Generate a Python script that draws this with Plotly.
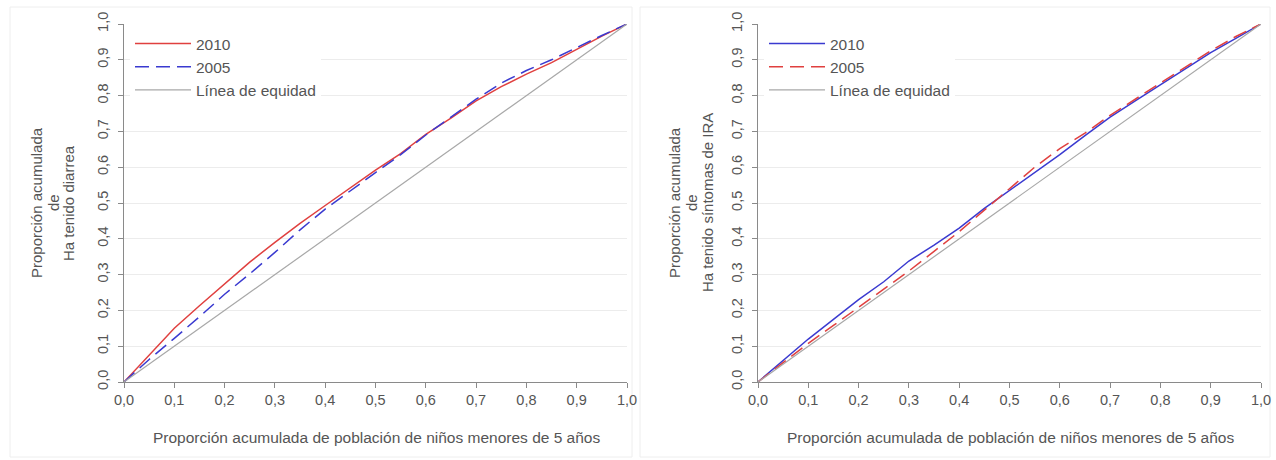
import plotly.graph_objects as go

# ---- data ----
x_pop = [0.0, 0.05, 0.1, 0.15, 0.2, 0.25, 0.3, 0.35, 0.4, 0.45, 0.5,
         0.55, 0.6, 0.65, 0.7, 0.75, 0.8, 0.85, 0.9, 0.95, 1.0]

diarrea_2010 = [0.0, 0.075, 0.150, 0.213, 0.275, 0.335, 0.390, 0.443, 0.493, 0.543, 0.592,
                0.638, 0.692, 0.737, 0.785, 0.825, 0.860, 0.892, 0.930, 0.966, 1.0]
diarrea_2005 = [0.0, 0.063, 0.122, 0.182, 0.245, 0.302, 0.362, 0.425, 0.483, 0.535, 0.585,
                0.635, 0.690, 0.740, 0.790, 0.835, 0.870, 0.900, 0.935, 0.968, 1.0]

ira_2010 = [0.0, 0.060, 0.120, 0.175, 0.230, 0.280, 0.338, 0.382, 0.430, 0.485, 0.535,
            0.585, 0.635, 0.688, 0.740, 0.785, 0.830, 0.875, 0.920, 0.960, 1.0]
ira_2005 = [0.0, 0.054, 0.108, 0.158, 0.208, 0.258, 0.310, 0.365, 0.420, 0.480, 0.540,
            0.600, 0.652, 0.695, 0.745, 0.790, 0.835, 0.880, 0.925, 0.965, 1.0]

equity_x = [0.0, 1.0]
equity_y = [0.0, 1.0]

tick_vals = [0.0, 0.1, 0.2, 0.3, 0.4, 0.5, 0.6, 0.7, 0.8, 0.9, 1.0]
tick_text = ["0,0", "0,1", "0,2", "0,3", "0,4", "0,5", "0,6", "0,7", "0,8", "0,9", "1,0"]

legend_labels = ["2010", "2005", "Línea de equidad"]
x_title = "Proporción acumulada de población de niños menores de 5 años"
y_title_left = ["Proporción acumulada", "de", "Ha tenido diarrea"]
y_title_right = ["Proporción acumulada", "de", "Ha tenido síntomas de IRA"]

# ---- style ----
RED = "#e0403f"
BLUE = "#3a3ad0"
GRAY = "#a8a8a8"
TXT = "#555555"
FONT = "Liberation Sans, Arial, sans-serif"
W, H = 1276, 460

fig = go.Figure()

# left panel
fig.add_trace(go.Scatter(x=x_pop, y=diarrea_2010, mode="lines", name=legend_labels[0],
                         line=dict(color=RED, width=1.5), xaxis="x", yaxis="y", legend="legend"))
fig.add_trace(go.Scatter(x=x_pop, y=diarrea_2005, mode="lines", name=legend_labels[1],
                         line=dict(color=BLUE, width=1.5, dash="14px,7px"), xaxis="x", yaxis="y", legend="legend"))
fig.add_trace(go.Scatter(x=equity_x, y=equity_y, mode="lines", name=legend_labels[2],
                         line=dict(color=GRAY, width=1.2), xaxis="x", yaxis="y", legend="legend"))

# right panel
fig.add_trace(go.Scatter(x=x_pop, y=ira_2010, mode="lines", name=legend_labels[0],
                         line=dict(color=BLUE, width=1.5), xaxis="x2", yaxis="y2", legend="legend2"))
fig.add_trace(go.Scatter(x=x_pop, y=ira_2005, mode="lines", name=legend_labels[1],
                         line=dict(color=RED, width=1.5, dash="14px,7px"), xaxis="x2", yaxis="y2", legend="legend2"))
fig.add_trace(go.Scatter(x=equity_x, y=equity_y, mode="lines", name=legend_labels[2],
                         line=dict(color=GRAY, width=1.2), xaxis="x2", yaxis="y2", legend="legend2"))

ydom = [1 - 382 / H, 1 - 24 / H]
xdom1 = [124 / W, 627 / W]
xdom2 = [758 / W, 1261 / W]

def xax(dom, anchor):
    return dict(domain=dom, range=[0, 1], anchor=anchor, tickvals=tick_vals, ticktext=tick_text,
                automargin=False, showgrid=False, zeroline=False, showline=True,
                linecolor="#8a8a8a", linewidth=1,
                ticks="outside", ticklen=5, tickcolor="#8a8a8a",
                tickfont=dict(family=FONT, size=14.5, color=TXT))

def yax(anchor):
    return dict(domain=ydom, range=[0, 1], anchor=anchor, tickvals=tick_vals, ticktext=tick_text,
                automargin=False, showgrid=True, gridcolor="#ececec", gridwidth=1, zeroline=False,
                showline=True, linecolor="#8a8a8a", linewidth=1,
                ticks="outside", ticklen=5, tickcolor="#8a8a8a", tickangle=-90,
                ticklabelstandoff=4,
                tickfont=dict(family=FONT, size=14.5, color=TXT))

legend_common = dict(bgcolor="white", borderwidth=0, font=dict(family=FONT, size=15.5, color=TXT),
                     xanchor="left", yanchor="top", itemwidth=56, tracegroupgap=0)

annotations = []
for xs, lines in (((36, 53, 68), y_title_left), ((674, 691, 707), y_title_right)):
    for xp, txt in zip(xs, lines):
        annotations.append(dict(text=txt, x=xp / W, y=1 - 203 / H, xref="paper", yref="paper",
                                xanchor="center", yanchor="middle", textangle=-90, showarrow=False,
                                font=dict(family=FONT, size=15, color=TXT)))
for xp in (376, 1010):
    annotations.append(dict(text=x_title, x=xp / W, y=1 - 437 / H, xref="paper", yref="paper",
                            xanchor="center", yanchor="middle", showarrow=False,
                            font=dict(family=FONT, size=15.5, color=TXT)))

fig.update_layout(
    template="none",
    width=W, height=H,
    margin=dict(l=0, r=0, t=0, b=0),
    paper_bgcolor="white", plot_bgcolor="white",
    xaxis=xax(xdom1, "y"), yaxis=yax("x"),
    xaxis2=xax(xdom2, "y2"), yaxis2=yax("x2"),
    legend=dict(x=130 / W, y=1 - 27 / H, **legend_common),
    legend2=dict(x=764 / W, y=1 - 27 / H, **legend_common),
    showlegend=True,
    annotations=annotations,
    shapes=[
        dict(type="rect", xref="paper", yref="paper", x0=10 / W, x1=632 / W, y0=1 - 457 / H, y1=1 - 7 / H,
             line=dict(color="#eeeeee", width=1), layer="below"),
        dict(type="rect", xref="paper", yref="paper", x0=640 / W, x1=1270 / W, y0=1 - 457 / H, y1=1 - 7 / H,
             line=dict(color="#eeeeee", width=1), layer="below"),
    ],
)

fig.write_html("out.html", config={"displayModeBar": False},
               post_script="document.body.style.margin='0';document.body.style.overflow='hidden';")
